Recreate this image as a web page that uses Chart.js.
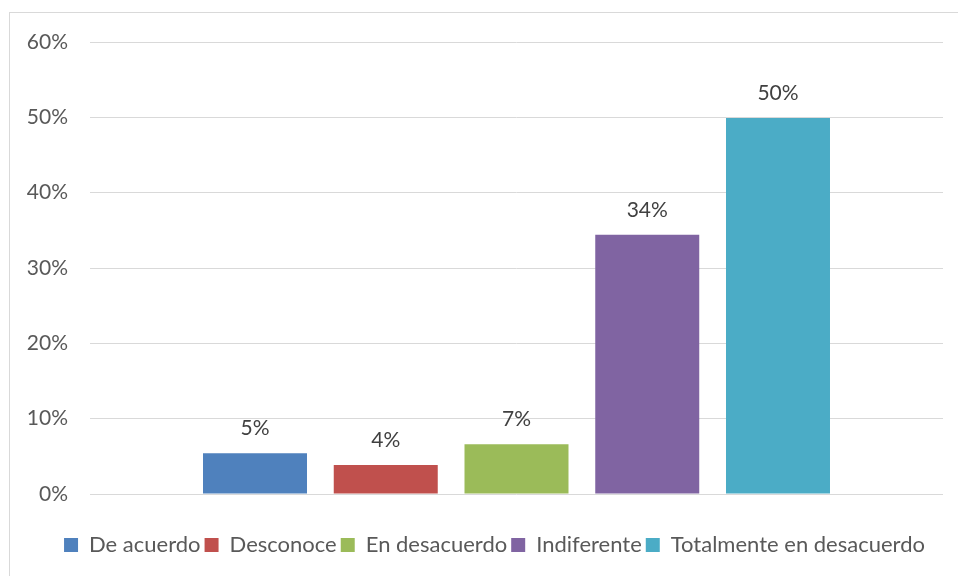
<!DOCTYPE html>
<html>
<head>
<meta charset="utf-8">
<script src="https://cdn.jsdelivr.net/npm/chart.js@4.4.0/dist/chart.umd.min.js"></script>
<style>
  html, body { margin: 0; padding: 0; background: #ffffff; }
  #wrap { position: relative; width: 958px; height: 576px; }
</style>
</head>
<body>
<div id="wrap"><canvas id="c" width="958" height="576"></canvas></div>
<script>
const categories = [''];
const seriesNames = ['De acuerdo', 'Desconoce', 'En desacuerdo', 'Indiferente', 'Totalmente en desacuerdo'];
const seriesValues = [5.4, 3.85, 6.6, 34.4, 49.9];
const seriesColors = ['#4f81bd', '#c0504d', '#9bbb59', '#8064a2', '#4bacc6'];
const yTicks = [0, 10, 20, 30, 40, 50, 60];

const FONT = 'Lato, "Open Sans", sans-serif';

const frame = {
  id: 'frame',
  beforeDraw(chart) {
    const ctx = chart.ctx;
    ctx.save();
    ctx.fillStyle = '#ffffff';
    ctx.fillRect(0, 0, chart.width, chart.height);
    ctx.strokeStyle = '#d9d9d9';
    ctx.lineWidth = 1;
    ctx.strokeRect(9.5, 12.5, 980, 600);
    ctx.restore();
  }
};

const legendShift = {
  id: 'legendShift',
  afterLayout(chart) {
    if (chart.legend) {
      chart.legend.left += 23;
      chart.legend.right += 23;
    }
  }
};

const dataLabels = {
  id: 'dataLabels',
  afterDatasetsDraw(chart) {
    const ctx = chart.ctx;
    ctx.save();
    ctx.font = '21px ' + FONT;
    ctx.fillStyle = '#404040';
    ctx.textAlign = 'center';
    ctx.textBaseline = 'middle';
    chart.data.datasets.forEach((ds, i) => {
      const meta = chart.getDatasetMeta(i);
      meta.data.forEach((bar, j) => {
        const v = ds.data[j];
        ctx.fillText(Math.round(v) + '%', bar.x, bar.y - 25);
      });
    });
    ctx.restore();
  }
};

new Chart(document.getElementById('c'), {
  type: 'bar',
  data: {
    labels: categories,
    datasets: seriesNames.map((name, i) => ({
      label: name,
      data: [seriesValues[i]],
      backgroundColor: seriesColors[i],
      borderWidth: 0,
      categoryPercentage: 0.7664,
      barPercentage: 0.7954
    }))
  },
  options: {
    responsive: false,
    animation: false,
    devicePixelRatio: 1,
    layout: { padding: { left: 0, right: 15, top: 42, bottom: 10 } },
    plugins: {
      legend: {
        position: 'bottom',
        labels: {
          boxWidth: 14,
          boxHeight: 14,
          padding: 4,
          color: '#595959',
          font: { family: FONT, size: 22 }
        }
      },
      tooltip: { enabled: false }
    },
    scales: {
      x: {
        display: true,
        grid: { display: false },
        border: { display: false },
        ticks: { display: false },
        afterFit(scale) { scale.height = 36; }
      },
      y: {
        min: 0,
        max: 60,
        afterBuildTicks(scale) { scale.ticks = yTicks.map(v => ({ value: v })); },
        afterFit(scale) { scale.width = 90; },
        grid: { color: '#d9d9d9', lineWidth: 1, drawTicks: false },
        border: { display: false },
        ticks: {
          padding: 22,
          color: '#595959',
          font: { family: FONT, size: 21 },
          callback: v => v + '%'
        }
      }
    }
  },
  plugins: [frame, legendShift, dataLabels]
});
</script>
</body>
</html>
